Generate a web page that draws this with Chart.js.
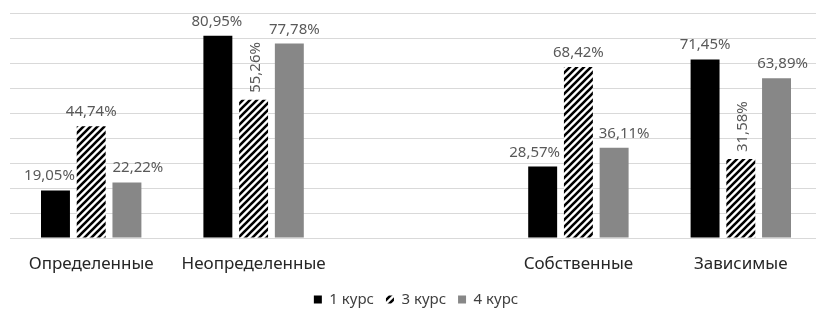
<!DOCTYPE html>
<html>
<head>
<meta charset="utf-8">
<script src="https://cdn.jsdelivr.net/npm/chart.js@4.4.0/dist/chart.umd.min.js"></script>
<style>
  html, body { margin: 0; padding: 0; background: #fff; overflow: hidden; }
  /* plot runs a few px past the right edge like the original crop */
  #wrap { width: 822px; height: 309px; }
</style>
</head>
<body>
<div id="wrap"><canvas id="chart"></canvas></div>
<script>
// Data
const categories = ['Определенные', 'Неопределенные', '', 'Собственные', 'Зависимые'];
const seriesNames = ['1 курс', '3 курс', '4 курс'];
const course1 = [19.05, 80.95, null, 28.57, 71.45];
const course3 = [44.74, 55.26, null, 68.42, 31.58];
const course4 = [22.22, 77.78, null, 36.11, 63.89];
const yMax = 90;
const yStep = 10;

// label placement tweaks (px shift from bar centre, vertical text flags)
const labelShift = [
  [-6, -1, 0, -8, 0],
  [0, 2, 0, 0, 2],
  [11, 5, 0, 10, 6],
];
const labelVertical = [
  [false, false, false, false, false],
  [false, true, false, false, true],
  [false, false, false, false, false],
];

// hatch pattern for 3 курс
function makeHatch() {
  const s = 7;
  const c = document.createElement('canvas');
  c.width = s;
  c.height = s;
  const g = c.getContext('2d');
  g.fillStyle = '#fff';
  g.fillRect(0, 0, s, s);
  g.strokeStyle = '#000';
  g.lineWidth = 2.6;
  g.beginPath();
  g.moveTo(-1, s + 1); g.lineTo(s + 1, -1);
  g.moveTo(-1, 1); g.lineTo(1, -1);
  g.moveTo(s - 1, s + 1); g.lineTo(s + 1, s - 1);
  g.stroke();
  return g.createPattern(c, 'repeat');
}

const ctx = document.getElementById('chart').getContext('2d');
const hatch = makeHatch();

function fmt(v) {
  return v.toFixed(2).replace('.', ',') + '%';
}

const valueLabels = {
  id: 'valueLabels',
  afterDatasetsDraw(chart) {
    const c = chart.ctx;
    c.save();
    c.fillStyle = '#595959';
    c.font = '15px "Noto Sans"';
    chart.data.datasets.forEach((ds, di) => {
      const meta = chart.getDatasetMeta(di);
      meta.data.forEach((bar, i) => {
        const v = ds.data[i];
        if (v == null) return;
        const x = bar.x + labelShift[di][i];
        if (labelVertical[di][i]) {
          c.save();
          c.translate(x, bar.y - 7);
          c.rotate(-Math.PI / 2);
          c.textAlign = 'left';
          c.textBaseline = 'middle';
          c.fillText(fmt(v), 0, 0);
          c.restore();
        } else {
          c.textAlign = 'center';
          c.textBaseline = 'alphabetic';
          c.fillText(fmt(v), x, bar.y - 10);
        }
      });
    });
    c.restore();
  },
};

const chart = new Chart(ctx, {
  type: 'bar',
  data: {
    labels: categories,
    datasets: [
      { label: seriesNames[0], data: course1, backgroundColor: '#000000' },
      { label: seriesNames[1], data: course3, backgroundColor: hatch },
      { label: seriesNames[2], data: course4, backgroundColor: '#878787' },
    ],
  },
  options: {
    responsive: true,
    maintainAspectRatio: false,
    animation: false,
    datasets: {
      bar: { categoryPercentage: 0.66, barPercentage: 0.81, borderWidth: 0 },
    },
    layout: { padding: { left: 10, right: 0, top: 13, bottom: -8 } },
    plugins: {
      legend: {
        position: 'bottom',
        labels: {
          boxWidth: 8,
          boxHeight: 8,
          padding: 12,
          color: '#404040',
          font: { family: 'Noto Sans', size: 15 },
        },
      },
      tooltip: { enabled: false },
    },
    scales: {
      x: {
        grid: { display: false },
        border: { display: false },
        ticks: {
          color: '#262626',
          font: { family: 'Noto Sans', size: 17 },
          padding: 8,
          maxRotation: 0,
          autoSkip: false,
        },
        afterFit(scale) { scale.height = 42; },
      },
      y: {
        min: 0,
        max: yMax,
        ticks: { display: false, stepSize: yStep },
        border: { display: false },
        grid: { color: '#d9d9d9', drawTicks: false },
      },
    },
  },
  plugins: [valueLabels],
});
</script>
</body>
</html>
